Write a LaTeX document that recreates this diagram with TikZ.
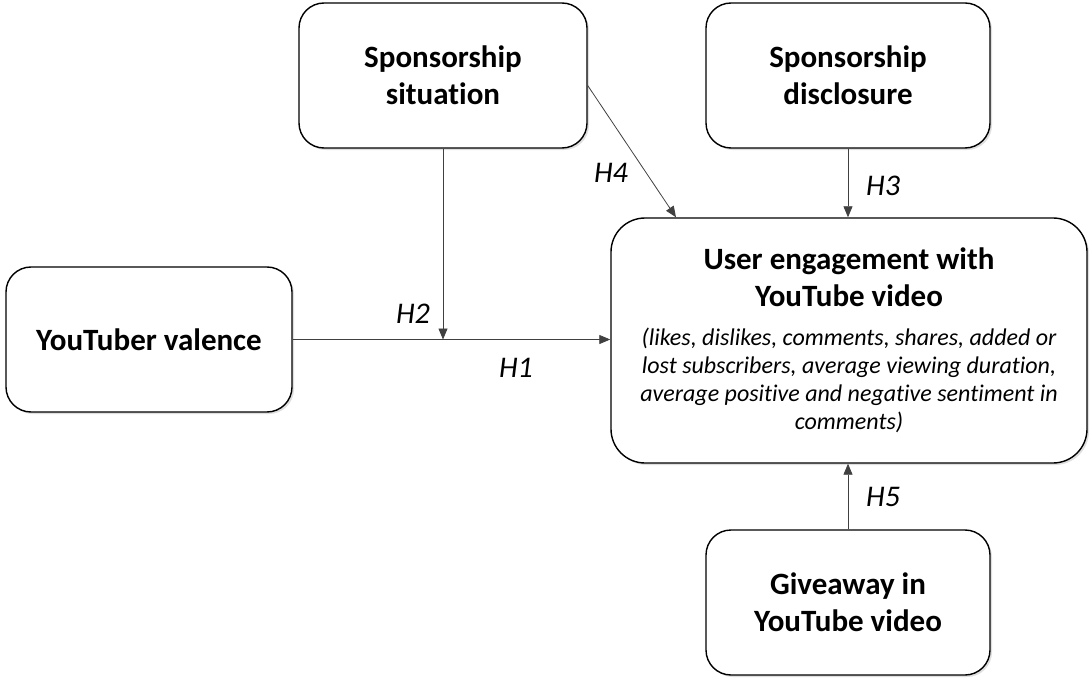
\documentclass[tikz,border=0pt]{standalone}
\usepackage{fontspec}
\setmainfont{Carlito}[Ligatures=NoCommon]
\usetikzlibrary{arrows.meta,shadows}

\tikzset{
    box/.style={draw=black, line width=1.4bp, fill=white, rounded corners=25bp,
        align=flush center, inner sep=0pt,
        drop shadow={opacity=0.25, shadow xshift=2bp, shadow yshift=-2bp},
        font=\bfseries\fontsize{31bp}{37bp}\selectfont},
    link/.style={draw=black!75, line width=0.8bp, -{Triangle[length=11bp,width=9bp]}},
    hyp/.style={font=\itshape\fontsize{30bp}{34bp}\selectfont, inner sep=0pt}
}

\begin{document}
\begin{tikzpicture}[x=1bp,y=-1bp]
    \useasboundingbox (0,0) rectangle (1091,679);

    \node[box, minimum width=288bp, minimum height=145bp] (sit) at (443,75.5) {Sponsorship\\situation};
    \node[box, minimum width=284bp, minimum height=145bp] (dis) at (848,75.5) {Sponsorship\\disclosure};
    \node[box, minimum width=286bp, minimum height=145bp] (val) at (149,339.5) {YouTuber valence};
    \node[box, minimum width=284bp, minimum height=145bp] (give) at (848,602.5) {Giveaway in\\YouTube video};
    \node[box, rounded corners=34bp, minimum width=476bp, minimum height=245bp, text width=470bp] (eng) at (849,340.5)
        {User engagement with\\YouTube video\par\vspace{11bp}
         {\mdseries\itshape\fontsize{24bp}{28bp}\selectfont
         (likes, dislikes, comments, shares, added or\\
         lost subscribers, average viewing duration,\\
         average positive and negative sentiment in\\
         comments)\par}};

    \coordinate (join) at (sit.south |- val.east);
    \draw[link] (val.east) -- (val.east -| eng.west);
    \draw[link] (sit.south) -- (join);
    \draw[link] ([yshift=-10bp]sit.east) -- ([xshift=-173bp]eng.north);
    \draw[link] (dis.south) -- (dis.south |- eng.north);
    \draw[link] (give.north) -- (give.north |- eng.south);

    \node[hyp] (h1) at (516,368) {H1};
    \node[hyp] (h2) at (413,314) {H2};
    \node[hyp] (h3) at (883,186) {H3};
    \node[hyp] (h4) at (611,173) {H4};
    \node[hyp] (h5) at (883,497) {H5};
\end{tikzpicture}
\end{document}
